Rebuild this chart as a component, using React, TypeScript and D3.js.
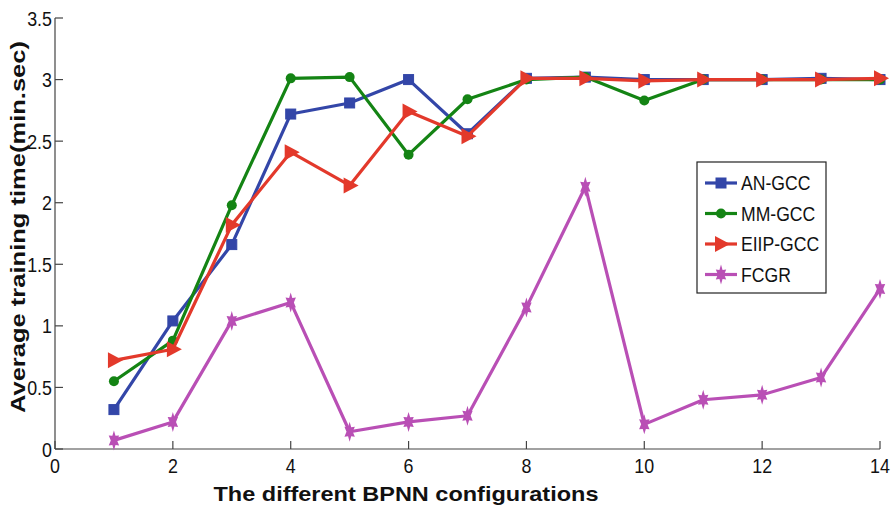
import React from "react";
import * as d3 from "d3";

const configs = [1, 2, 3, 4, 5, 6, 7, 8, 9, 10, 11, 12, 13, 14];
const anGcc = [0.32, 1.04, 1.66, 2.72, 2.81, 3.0, 2.56, 3.01, 3.02, 3.0, 3.0, 3.0, 3.01, 3.0];
const mmGcc = [0.55, 0.88, 1.98, 3.01, 3.02, 2.39, 2.84, 3.0, 3.02, 2.83, 3.0, 3.0, 3.0, 3.0];
const eiipGcc = [0.72, 0.81, 1.82, 2.41, 2.14, 2.74, 2.54, 3.01, 3.01, 2.99, 3.0, 3.0, 3.0, 3.01];
const fcgr = [0.07, 0.22, 1.04, 1.19, 0.14, 0.22, 0.27, 1.15, 2.13, 0.2, 0.4, 0.44, 0.58, 1.3];
const xTicks = [0, 2, 4, 6, 8, 10, 12, 14];
const yTicks = [0, 0.5, 1, 1.5, 2, 2.5, 3, 3.5];

const seriesList = [
  { name: "AN-GCC", values: anGcc, color: "#3346a8", marker: "square" },
  { name: "MM-GCC", values: mmGcc, color: "#148414", marker: "circle" },
  { name: "EIIP-GCC", values: eiipGcc, color: "#e3392b", marker: "triangle" },
  { name: "FCGR", values: fcgr, color: "#b94fb5", marker: "star" },
];

const W = 893, H = 506;
const x = d3.scaleLinear().domain([0, 14]).range([55, 880]);
const y = d3.scaleLinear().domain([0, 3.5]).range([449, 18]);
const font = "'Liberation Sans', Arial, sans-serif";

function hexagram(ro: number, ri: number) {
  const pts: [number, number][] = [];
  for (let k = 0; k < 12; k++) {
    const a = (k * Math.PI) / 6 - Math.PI / 2;
    const r = k % 2 === 0 ? ro : ri;
    pts.push([r * Math.cos(a) * 0.75, r * Math.sin(a) * 1.25]);
  }
  return "M" + pts.map((p) => p.join(",")).join("L") + "Z";
}
const starPath = hexagram(8, 4.2);

function Marker({ type, cx, cy, color }: { type: string; cx: number; cy: number; color: string }) {
  if (type === "square") {
    return <rect x={cx - 5} y={cy - 5} width={10} height={10} fill={color} stroke={color} strokeWidth={1} />;
  }
  if (type === "circle") {
    return <circle cx={cx} cy={cy} r={5} fill={color} />;
  }
  if (type === "triangle") {
    const p = `${cx - 6},${cy - 8} ${cx + 9},${cy} ${cx - 6},${cy + 8}`;
    return <polygon points={p} fill={color} />;
  }
  return <path d={starPath} fill={color} transform={`translate(${cx},${cy})`} />;
}

export default function App() {
  const line = d3
    .line<number>()
    .x((_, i) => x(configs[i]))
    .y((d) => y(d));
  return (
    <svg width={W} height={H} style={{ position: "absolute", left: 0, top: 0, background: "#fff" }}>
      {/* axes */}
      <line x1={x(0)} x2={x(14)} y1={y(0)} y2={y(0)} stroke="#444" strokeWidth={1.2} />
      <line x1={x(0)} x2={x(0)} y1={y(0)} y2={y(3.5)} stroke="#444" strokeWidth={1.2} />
      {xTicks.map((t) => (
        <g key={"x" + t}>
          <line x1={x(t)} x2={x(t)} y1={y(0)} y2={y(0) - 8} stroke="#444" strokeWidth={1.2} />
          <text
            transform={`translate(${x(t)},${y(0) + 24}) scale(0.85,1)`}
            textAnchor="middle"
            fontFamily={font}
            fontSize={21}
            fill="#111"
          >
            {t}
          </text>
        </g>
      ))}
      {yTicks.map((t) => (
        <g key={"y" + t}>
          <line x1={x(0)} x2={x(0) + 8} y1={y(t)} y2={y(t)} stroke="#444" strokeWidth={1.2} />
          <text
            transform={`translate(${x(0) - 3},${y(t) + 7.5}) scale(0.85,1)`}
            textAnchor="end"
            fontFamily={font}
            fontSize={21}
            fill="#111"
          >
            {t}
          </text>
        </g>
      ))}
      <text
        x={406}
        y={501}
        textAnchor="middle"
        fontFamily={font}
        fontWeight="bold"
        fontSize={21}
        textLength={385}
        lengthAdjust="spacingAndGlyphs"
        fill="#111"
      >
        The different BPNN configurations
      </text>
      <text
        transform={`translate(25,227) rotate(-90)`}
        textAnchor="middle"
        fontFamily={font}
        fontWeight="bold"
        fontSize={20}
        textLength={372}
        lengthAdjust="spacingAndGlyphs"
        fill="#111"
      >
        Average training time(min.sec)
      </text>
      {/* series */}
      {seriesList.map((s) => (
        <g key={s.name}>
          <path d={line(s.values) || ""} fill="none" stroke={s.color} strokeWidth={3.2} strokeLinejoin="round" />
          {s.values.map((v, i) => (
            <Marker key={i} type={s.marker} cx={x(configs[i])} cy={y(v)} color={s.color} />
          ))}
        </g>
      ))}
      {/* legend */}
      <rect x={697} y={162} width={129} height={131} fill="#fff" stroke="#222" strokeWidth={1.2} />
      {seriesList.map((s, i) => {
        const ly = 183 + i * 30.5;
        return (
          <g key={"l" + s.name}>
            <line x1={705} x2={737} y1={ly} y2={ly} stroke={s.color} strokeWidth={3.2} />
            <Marker type={s.marker} cx={721} cy={ly} color={s.color} />
            <text
              transform={`translate(741,${ly + 7}) scale(0.88,1)`}
              fontFamily={font}
              fontSize={20}
              fill="#111"
            >
              {s.name}
            </text>
          </g>
        );
      })}
    </svg>
  );
}
